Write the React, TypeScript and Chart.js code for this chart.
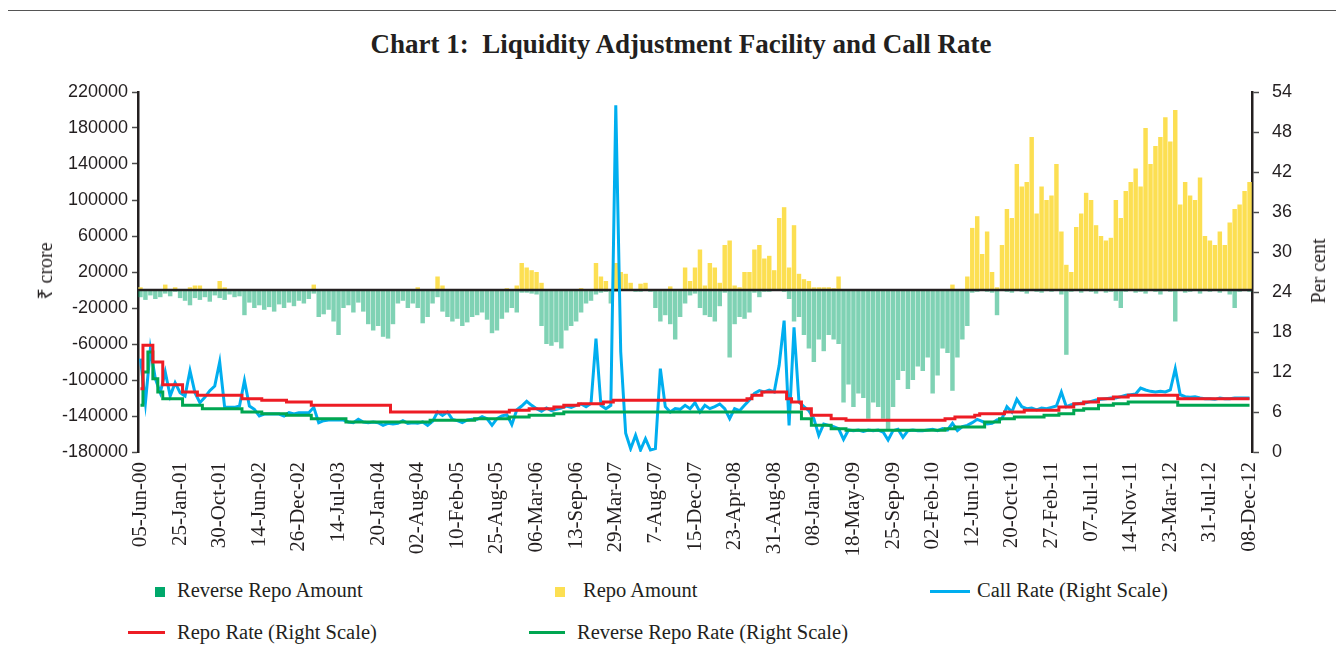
import { useEffect, useRef } from 'react';
import { Chart, registerables } from 'chart.js';

Chart.register(...registerables);

// ---- tick labels (x axis), one every 8 points ----
const tickLabels = [
  '05-Jun-00', '25-Jan-01', '30-Oct-01', '14-Jun-02', '26-Dec-02', '14-Jul-03', '20-Jan-04',
  '02-Aug-04', '10-Feb-05', '25-Aug-05', '06-Mar-06', '13-Sep-06', '29-Mar-07', '7-Aug-07',
  '15-Dec-07', '23-Apr-08', '31-Aug-08', '08-Jan-09', '18-May-09', '25-Sep-09', '02-Feb-10',
  '12-Jun-10', '20-Oct-10', '27-Feb-11', '07-Jul-11', '14-Nov-11', '23-Mar-12', '31-Jul-12',
  '08-Dec-12',
];
const pointsPerLabel = 8;

// ---- Reverse Repo Amount (₹ crore, absorption shown negative) ----
const reverseRepoAmount = [
  -8000, -11000, -6000, -10000, -8000, -4000, -7000, -2000,
  -9000, -12000, -17000, -9000, -11000, -8000, -13000, -6000,
  -9000, -11000, -5000, -8000, -7000, -28000, -14000, -20000,
  -17000, -22000, -19000, -24000, -16000, -20000, -14000, -18000,
  -12000, -15000, -10000, -4000, -30000, -27000, -22000, -35000,
  -50000, -20000, -17000, -25000, -14000, -24000, -38000, -45000,
  -40000, -52000, -54000, -38000, -15000, -12000, -20000, -15000,
  -20000, -37000, -30000, -15000, -8000, -24000, -30000, -35000,
  -32000, -40000, -36000, -30000, -28000, -25000, -33000, -48000,
  -45000, -32000, -25000, -20000, -25000, -3000, -3000, -4000,
  -5000, -40000, -60000, -62000, -58000, -65000, -45000, -40000,
  -35000, -25000, -15000, -12000, -5000, -3000, -2000, -15000,
  -2000, 0, 0, -1000, -2000, -2000, -1000, -2000,
  -20000, -35000, -28000, -38000, -55000, -30000, -15000, -6000,
  -4000, -20000, -28000, -30000, -35000, -18000, -3000, -75000,
  -38000, -30000, -32000, -25000, -3000, -8000, -2000, -2000,
  -1000, -1000, -2000, -10000, -35000, -30000, -50000, -65000,
  -80000, -55000, -68000, -50000, -55000, -60000, -125000, -105000,
  -130000, -115000, -120000, -143000, -125000, -130000, -143000, -155000,
  -130000, -100000, -90000, -110000, -100000, -85000, -90000, -75000,
  -115000, -95000, -65000, -70000, -112000, -75000, -55000, -40000,
  -3000, -2000, -1000, -2000, -3000, -28000, -1000, -2000,
  -3000, -1000, -2000, -4000, -1000, -2000, -3000, -1000,
  -2000, -1000, -5000, -72000, -2000, -1000, -3000, -1000,
  -2000, -4000, -1000, -3000, -2000, -12000, -20000, -2000,
  -1000, -3000, -2000, -4000, -1000, -2000, -5000, -1000,
  -2000, -35000, -1000, -3000, -2000, -1000, -4000, -1000,
  -2000, -1000, -3000, -1000, -5000, -20000, -2000, -1000,
  -2000,
];

// ---- Repo Amount (₹ crore, injection) ----
const repoAmount = [
  3000, 0, 0, 0, 0, 6000, 0, 3000,
  0, 0, 3000, 5000, 5000, 0, 0, 0,
  10000, 3000, 0, 0, 0, 1000, 0, 0,
  0, 0, 0, 0, 0, 0, 0, 0,
  0, 0, 0, 6000, 0, 0, 0, 0,
  0, 0, 0, 0, 0, 0, 0, 0,
  0, 0, 0, 0, 0, 0, 0, 0,
  3000, 0, 0, 0, 15000, 5000, 0, 0,
  0, 0, 0, 0, 0, 0, 0, 0,
  0, 0, 2000, 0, 5000, 30000, 25000, 22000,
  20000, 8000, 0, 0, 0, 0, 0, 0,
  0, 2000, 0, 0, 30000, 15000, 10000, 0,
  30000, 20000, 18000, 8000, 0, 7000, 8000, 0,
  0, 0, 0, 4000, 0, 0, 25000, 10000,
  25000, 45000, 5000, 30000, 25000, 8000, 50000, 55000,
  5000, 3000, 20000, 20000, 45000, 50000, 35000, 38000,
  22000, 80000, 92000, 25000, 72000, 18000, 12000, 10000,
  3000, 3000, 3000, 3000, 2000, 15000, 0, 0,
  0, 0, 0, 1000, 0, 0, 0, 0,
  0, 1000, 0, 0, 0, 0, 0, 0,
  0, 0, 0, 0, 6000, 0, 0, 15000,
  69000, 82000, 40000, 65000, 20000, 3000, 50000, 90000,
  80000, 140000, 115000, 120000, 170000, 85000, 115000, 100000,
  105000, 140000, 65000, 28000, 20000, 70000, 85000, 108000,
  100000, 72000, 60000, 55000, 58000, 100000, 80000, 110000,
  120000, 135000, 115000, 180000, 140000, 160000, 170000, 192000,
  165000, 200000, 95000, 120000, 105000, 100000, 125000, 60000,
  55000, 50000, 65000, 50000, 75000, 90000, 95000, 110000,
  120000,
];

// ---- Call Rate (per cent, right scale) ----
const callRate = [
  14, 7.4, 15.5, 11, 8.9, 12, 8.4, 10.4,
  8.9, 8.4, 12.2, 8.9, 7.4, 8.2, 9.2, 9.9,
  13.5, 6.7, 6.7, 6.7, 6.9, 10.7, 6.9, 6.4,
  5.4, 5.7, 5.7, 5.7, 5.7, 5.4, 5.9, 5.7,
  5.9, 5.9, 5.9, 6.7, 4.4, 4.7, 4.8, 4.8,
  4.8, 4.8, 4.5, 4.4, 4.9, 4.5, 4.4, 4.5,
  4.4, 4.0, 4.3, 4.2, 4.3, 4.7, 4.3, 4.4,
  4.3, 4.5, 4.0, 4.6, 6.0, 5.5, 6.0, 4.9,
  4.7, 4.4, 4.8, 4.9, 4.9, 5.3, 5.0, 4.0,
  5.0, 5.4, 5.6, 4.1, 6.3, 6.9, 7.6, 7.0,
  6.5, 6.1, 6.6, 6.2, 6.4, 6.6, 6.9, 6.7,
  7.0, 7.2, 6.8, 7.3, 17.0, 7.0, 6.5, 7.0,
  52, 15, 2.8, 0.5, 2.5, 0.3, 2.0, 0.3,
  0.5, 12.5, 6.8, 6.0, 6.5, 6.4, 7.0, 6.5,
  7.4, 6.0, 7.0, 6.5, 6.8, 7.2, 6.5, 5.0,
  6.5, 6.2, 7.0, 7.8, 8.8, 9.2, 9.0, 9.3,
  9.0, 13, 19.7, 4.0, 18.7, 7.5, 6.8, 6.2,
  5.0, 2.5, 4.2, 4.0, 3.8, 3.5, 1.9, 3.3,
  3.2, 3.3, 3.1, 3.3, 3.2, 3.3, 3.0, 1.8,
  3.2, 3.4, 2.2, 3.2, 3.3, 3.2, 3.2, 3.3,
  3.4, 3.2, 3.5, 3.3, 4.3, 3.2, 3.8, 4.0,
  4.4, 4.9, 4.6, 4.2, 4.3, 4.8, 5.0, 6.8,
  6.0, 7.9, 6.8, 6.5, 6.6, 6.3, 6.6, 6.5,
  6.7, 6.9, 9.0, 6.8, 7.1, 7.2, 7.3, 7.4,
  7.6, 7.8, 7.9, 8.0, 8.1, 8.1, 8.3, 8.5,
  8.6, 8.7, 9.6, 9.3, 9.1, 9.0, 9.1, 9.0,
  9.3, 12.5, 8.6, 8.3, 8.2, 8.3, 8.1, 8.0,
  8.0, 7.9, 8.1, 8.0, 8.0, 8.1, 8.1, 8.1,
  8.1,
];

// ---- Repo Rate (per cent, right scale) ----
const repoRate = [
  9.5, 16, 16, 13.5, 13.5, 10.1, 10.1, 10.1,
  10.1, 9, 9, 9, 8.5, 8.5, 8.5, 8.5,
  8.5, 8.5, 8.5, 8.5, 8.5, 8, 8, 8,
  8, 7.75, 7.75, 7.75, 7.75, 7.75, 7.5, 7.5,
  7.5, 7.5, 7.5, 7, 7, 7, 7, 7,
  7, 7, 7, 7, 7, 7, 7, 7,
  7, 7, 7, 6, 6, 6, 6, 6,
  6, 6, 6, 6, 6, 6, 6, 6,
  6, 6, 6, 6, 6, 6, 6, 6,
  6, 6, 6, 6.25, 6.25, 6.25, 6.25, 6.5,
  6.5, 6.5, 6.5, 6.5, 6.75, 6.75, 7, 7,
  7, 7.25, 7.25, 7.25, 7.25, 7.25, 7.5, 7.5,
  7.75, 7.75, 7.75, 7.75, 7.75, 7.75, 7.75, 7.75,
  7.75, 7.75, 7.75, 7.75, 7.75, 7.75, 7.75, 7.75,
  7.75, 7.75, 7.75, 7.75, 7.75, 7.75, 7.75, 7.75,
  7.75, 7.75, 7.75, 8, 8.5, 8.5, 9, 9,
  9, 9, 9, 8, 7.5, 7.5, 6.5, 6.5,
  5.5, 5.5, 5.5, 5.5, 5, 5, 5, 4.75,
  4.75, 4.75, 4.75, 4.75, 4.75, 4.75, 4.75, 4.75,
  4.75, 4.75, 4.75, 4.75, 4.75, 4.75, 4.75, 4.75,
  4.75, 4.75, 4.75, 5, 5, 5.25, 5.25, 5.25,
  5.25, 5.5, 5.75, 5.75, 5.75, 5.75, 5.75, 6,
  6, 6, 6, 6.25, 6.25, 6.25, 6.25, 6.25,
  6.25, 6.25, 6.75, 6.75, 6.75, 7.25, 7.25, 7.5,
  7.5, 7.5, 8, 8, 8, 8.25, 8.25, 8.25,
  8.5, 8.5, 8.5, 8.5, 8.5, 8.5, 8.5, 8.5,
  8.5, 8.5, 8, 8, 8, 8, 8, 8,
  8, 8, 8, 8, 8, 8, 8, 8,
  8,
];

// ---- Reverse Repo Rate (per cent, right scale) ----
const reverseRepoRate = [
  7, 12, 15, 11, 9, 8, 8, 8,
  8, 7, 7, 7, 7, 6.5, 6.5, 6.5,
  6.5, 6.5, 6.5, 6.5, 6.5, 6, 6, 6,
  6, 5.75, 5.75, 5.75, 5.75, 5.75, 5.5, 5.5,
  5.5, 5.5, 5.5, 5, 5, 5, 5, 5,
  5, 5, 4.5, 4.5, 4.5, 4.5, 4.5, 4.5,
  4.5, 4.5, 4.5, 4.5, 4.5, 4.5, 4.5, 4.5,
  4.5, 4.5, 4.5, 4.75, 4.75, 4.75, 4.75, 4.75,
  4.75, 4.75, 4.75, 4.75, 5, 5, 5, 5,
  5, 5, 5, 5.25, 5.25, 5.25, 5.25, 5.5,
  5.5, 5.5, 5.5, 5.5, 5.75, 5.75, 6, 6,
  6, 6, 6, 6, 6, 6, 6, 6,
  6, 6, 6, 6, 6, 6, 6, 6,
  6, 6, 6, 6, 6, 6, 6, 6,
  6, 6, 6, 6, 6, 6, 6, 6,
  6, 6, 6, 6, 6, 6, 6, 6,
  6, 6, 6, 6, 6, 6, 5, 5,
  4, 4, 4, 4, 3.5, 3.5, 3.5, 3.25,
  3.25, 3.25, 3.25, 3.25, 3.25, 3.25, 3.25, 3.25,
  3.25, 3.25, 3.25, 3.25, 3.25, 3.25, 3.25, 3.25,
  3.25, 3.25, 3.25, 3.5, 3.5, 3.75, 3.75, 3.75,
  3.75, 3.75, 3.75, 4.5, 4.5, 4.5, 5, 5,
  5, 5.25, 5.25, 5.25, 5.25, 5.25, 5.25, 5.5,
  5.5, 5.5, 5.75, 5.75, 5.75, 6.25, 6.25, 6.5,
  6.5, 6.5, 7, 7, 7, 7.25, 7.25, 7.25,
  7.5, 7.5, 7.5, 7.5, 7.5, 7.5, 7.5, 7.5,
  7.5, 7.5, 7, 7, 7, 7, 7, 7,
  7, 7, 7, 7, 7, 7, 7, 7,
  7,
];

const leftTicks = { min: -180000, max: 220000, step: 40000 };
const rightTicks = { min: 0, max: 54, step: 6 };

const INK = '#231f20';
const C_REV_AMT = 'rgba(0,166,106,0.5)';
const C_REV_AMT_LEGEND = '#00a86b';
const C_REPO_AMT = '#fcdf52';
const C_CALL = '#00aeef';
const C_REPO = '#ed1c24';
const C_REV = '#00a651';

const zeroLinePlugin = {
  id: 'zeroLine',
  beforeDatasetDraw(chart: any, args: any) {
    if (chart.data.datasets[args.index].label !== 'Call Rate (Right Scale)') return;
    const { ctx, chartArea, scales } = chart;
    const y = scales.y.getPixelForValue(0);
    ctx.save();
    ctx.strokeStyle = INK;
    ctx.lineWidth = 2.5;
    ctx.beginPath();
    ctx.moveTo(chartArea.left, y);
    ctx.lineTo(chartArea.right, y);
    ctx.stroke();
    ctx.restore();
  },
};

export default function App() {
  const canvasRef = useRef<HTMLCanvasElement | null>(null);

  useEffect(() => {
    document.body.style.overflow = 'hidden';
    const canvas = canvasRef.current;
    if (!canvas) return;
    const n = callRate.length;
    const labels = Array.from({ length: n }, (_, i) =>
      i % pointsPerLabel === 0 ? tickLabels[i / pointsPerLabel] ?? '' : ''
    );
    const chart = new Chart(canvas, {
      type: 'bar',
      data: {
        labels,
        datasets: [
          {
            type: 'line',
            label: 'Repo Rate (Right Scale)',
            data: repoRate,
            yAxisID: 'y1',
            borderColor: C_REPO,
            backgroundColor: C_REPO,
            borderWidth: 3,
            pointRadius: 0,
            stepped: 'middle',
            order: 0,
          },
          {
            type: 'line',
            label: 'Reverse Repo Rate (Right Scale)',
            data: reverseRepoRate,
            yAxisID: 'y1',
            borderColor: C_REV,
            backgroundColor: C_REV,
            borderWidth: 3,
            pointRadius: 0,
            stepped: 'middle',
            order: 1,
          },
          {
            type: 'line',
            label: 'Call Rate (Right Scale)',
            data: callRate,
            yAxisID: 'y1',
            borderColor: C_CALL,
            backgroundColor: C_CALL,
            borderWidth: 3,
            pointRadius: 0,
            tension: 0,
            order: 2,
          },
          {
            type: 'bar',
            label: 'Repo Amount',
            data: repoAmount,
            yAxisID: 'y',
            backgroundColor: C_REPO_AMT,
            borderWidth: 0,
            grouped: false,
            barPercentage: 0.9,
            categoryPercentage: 1,
            order: 3,
          },
          {
            type: 'bar',
            label: 'Reverse Repo Amount',
            data: reverseRepoAmount,
            yAxisID: 'y',
            backgroundColor: C_REV_AMT,
            borderWidth: 0,
            grouped: false,
            barPercentage: 0.9,
            categoryPercentage: 1,
            order: 4,
          },
        ] as any,
      },
      options: {
        responsive: false,
        maintainAspectRatio: false,
        animation: false,
        layout: { padding: { top: 0, bottom: 0, left: 0, right: 0 } },
        plugins: {
          legend: { display: false },
          tooltip: { enabled: false },
        },
        scales: {
          x: {
            offset: true,
            grid: { display: false, drawTicks: false },
            border: { display: false },
            ticks: {
              autoSkip: false,
              maxRotation: 90,
              minRotation: 90,
              padding: 10,
              color: INK,
              font: { family: "'Liberation Serif', serif", size: 21 },
            },
            afterFit: (s: any) => { s.height = 118; },
          },
          y: {
            position: 'left',
            min: leftTicks.min,
            max: leftTicks.max,
            ticks: {
              stepSize: leftTicks.step,
              padding: 4,
              color: INK,
              font: { family: "'Liberation Sans', sans-serif", size: 18 },
              callback: (v: any) => String(v),
            },
            grid: {
              drawOnChartArea: false,
              drawTicks: true,
              tickLength: 6,
              tickColor: '#4d4d4d',
              tickWidth: 1.5,
            },
            border: { display: true, color: INK, width: 2.5 },
            afterFit: (s: any) => { s.width = 130; s.paddingTop = 12; s.paddingBottom = 11; },
          },
          y1: {
            position: 'right',
            min: rightTicks.min,
            max: rightTicks.max,
            ticks: {
              stepSize: rightTicks.step,
              padding: 13,
              color: INK,
              font: { family: "'Liberation Sans', sans-serif", size: 18 },
            },
            grid: {
              drawOnChartArea: false,
              drawTicks: true,
              tickLength: 7,
              tickColor: '#4d4d4d',
              tickWidth: 1.5,
            },
            border: { display: true, color: INK, width: 2.5 },
            afterFit: (s: any) => { s.width = 84; s.paddingTop = 12; s.paddingBottom = 11; },
          },
        },
      } as any,
      plugins: [zeroLinePlugin],
    });
    return () => chart.destroy();
  }, []);

  const serif = "'Liberation Serif', serif";
  const legendText: React.CSSProperties = {
    position: 'absolute',
    fontFamily: serif,
    fontSize: '20.5px',
    lineHeight: '20.5px',
    color: INK,
    whiteSpace: 'nowrap',
  };
  const rotated = (cx: number, cy: number): React.CSSProperties => ({
    position: 'absolute',
    left: cx,
    top: cy,
    transform: 'translate(-50%, -50%) rotate(-90deg)',
    fontFamily: serif,
    fontSize: '20px',
    lineHeight: '20px',
    color: INK,
    whiteSpace: 'nowrap',
  });

  return (
    <div style={{ position: 'relative', width: 1328, height: 649 }}>
      <div
        style={{
          position: 'absolute',
          left: -3,
          top: 2,
          width: 1400,
          height: 700,
          borderTop: '1.5px solid #555',
          borderLeft: '1.5px solid #555',
        }}
      />
      <div
        style={{
          position: 'absolute',
          left: 173,
          width: 1000,
          top: 23,
          textAlign: 'center',
          fontFamily: serif,
          fontWeight: 'bold',
          fontSize: '27px',
          lineHeight: '27px',
          color: INK,
          whiteSpace: 'pre',
        }}
      >
        {'Chart 1:  Liquidity Adjustment Facility and Call Rate'}
      </div>
      <canvas
        ref={canvasRef}
        width={1328}
        height={490}
        style={{ position: 'absolute', left: 0, top: 72, width: 1328, height: 490 }}
      />
      <div style={rotated(37, 263)}>₹ crore</div>
      <div style={rotated(1310, 263)}>Per cent</div>

      {/* Legend row 1 */}
      <div style={{ position: 'absolute', left: 147, top: 579, width: 10, height: 10, background: C_REV_AMT_LEGEND }} />
      <div style={{ ...legendText, left: 169, top: 572 }}>Reverse Repo Amount</div>
      <div style={{ position: 'absolute', left: 547, top: 579, width: 10, height: 10, background: C_REPO_AMT }} />
      <div style={{ ...legendText, left: 575, top: 572 }}>Repo Amount</div>
      <div style={{ position: 'absolute', left: 922, top: 581.5, width: 40, height: 3, background: C_CALL }} />
      <div style={{ ...legendText, left: 969, top: 572 }}>Call Rate (Right Scale)</div>

      {/* Legend row 2 */}
      <div style={{ position: 'absolute', left: 120, top: 622.5, width: 37, height: 3, background: C_REPO }} />
      <div style={{ ...legendText, left: 169, top: 614 }}>Repo Rate (Right Scale)</div>
      <div style={{ position: 'absolute', left: 521, top: 622.5, width: 36, height: 3, background: C_REV }} />
      <div style={{ ...legendText, left: 569, top: 614 }}>Reverse Repo Rate (Right Scale)</div>
    </div>
  );
}
